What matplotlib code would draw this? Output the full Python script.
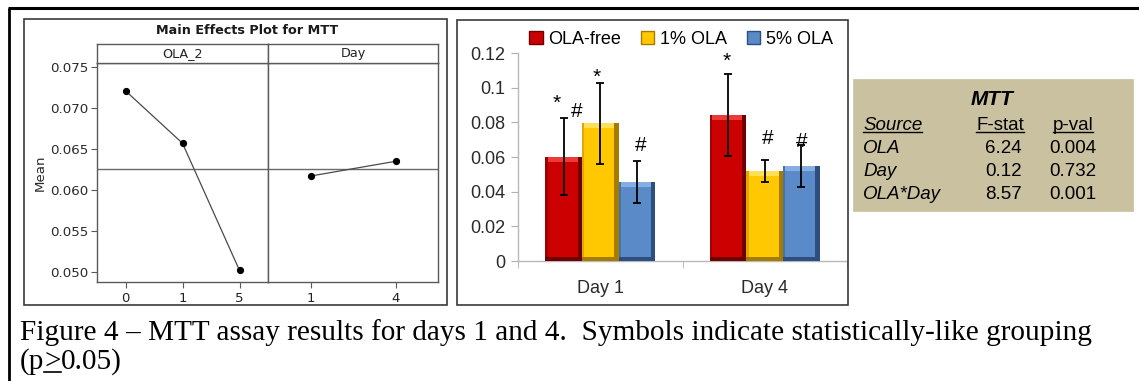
import matplotlib
matplotlib.use("Agg")
import matplotlib.pyplot as plt
from matplotlib.patches import Rectangle, Patch
from matplotlib.lines import Line2D

# ---------------- data ----------------
ola_levels = ["0", "1", "5"]
ola_means = [0.0721, 0.0657, 0.0502]
day_levels = ["1", "4"]
day_means = [0.0617, 0.0635]
grand_mean = 0.0626

days = ["Day 1", "Day 4"]
groups = ["OLA-free", "1% OLA", "5% OLA"]
mtt_free = [0.0601, 0.0842]
mtt_1pct = [0.0794, 0.0521]
mtt_5pct = [0.0457, 0.0548]
err_free = [0.0222, 0.0237]
err_1pct = [0.0232, 0.0064]
err_5pct = [0.0122, 0.0122]
bar_yticks = [0, 0.02, 0.04, 0.06, 0.08, 0.1, 0.12]
bar_ytick_labels = ["0", "0.02", "0.04", "0.06", "0.08", "0.1", "0.12"]
# (series index, day index, symbol)
grouping_marks = [(0, 0, "*"), (0, 0, "#"), (1, 0, "*"), (2, 0, "#"),
                  (0, 1, "*"), (1, 1, "#"), (2, 1, "#")]

anova_sources = ["OLA", "Day", "OLA*Day"]
anova_f = ["6.24", "0.12", "8.57"]
anova_p = ["0.004", "0.732", "0.001"]

caption_line1 = ("Figure 4 \u2013 MTT assay results for days 1 and 4.  "
                 "Symbols indicate statistically-like grouping")

W, H = 1139, 381
fig = plt.figure(figsize=(W / 100, H / 100), dpi=100)
fig.patch.set_facecolor("white")


def fx(px):
    return px / W


def fy(py):
    return 1 - py / H


def box(x0, y0, x1, y1):
    return [fx(x0), fy(y1), fx(x1) - fx(x0), fy(y0) - fy(y1)]


# ---------------- outer frame and panel boxes ----------------
fig.add_artist(Line2D([fx(8), 1.0], [fy(8), fy(8)], color="black", lw=2.2,
                      solid_capstyle="butt"))
fig.add_artist(Line2D([fx(9), fx(9)], [fy(8), 0], color="black", lw=2.0,
                      solid_capstyle="butt"))
for (x0, y0, x1, y1) in [(24, 19, 447, 305), (457, 20, 848, 305)]:
    fig.add_artist(Rectangle((fx(x0), fy(y1)), fx(x1) - fx(x0), fy(y0) - fy(y1),
                             fill=False, ec="#3a3a3a", lw=1.2))

# ---------------- main effects plot ----------------
mfont = "DejaVu Sans"
gray = "#5a5a5a"
ylo, yhi = 0.04878, 0.07549
fig.text(fx(247), fy(31), "Main Effects Plot for MTT", ha="center", va="center",
         fontsize=9.2, fontweight="bold", family=mfont, color="#1a1a1a")

ax_ola = fig.add_axes(box(97, 63, 268, 282))
ax_day = fig.add_axes(box(268, 63, 438, 282))
for ax, labels, means in [(ax_ola, ola_levels, ola_means), (ax_day, day_levels, day_means)]:
    xs = list(range(len(labels)))
    ax.plot(xs, means, color="#4a4a4a", lw=0.9, zorder=3)
    ax.plot(xs, means, "o", color="black", ms=4.2, zorder=4)
    ax.axhline(grand_mean, color="#6a6a6a", lw=1.0, zorder=2)
    ax.set_xlim(-0.5, len(labels) - 0.5)
    ax.set_ylim(ylo, yhi)
    ax.set_xticks(xs)
    ax.set_xticklabels(labels, fontsize=9.5, family=mfont, color="#222222")
    for s in ax.spines.values():
        s.set_color(gray)
        s.set_linewidth(1.0)
    ax.tick_params(axis="x", length=4, color=gray, pad=3)
ax_ola.set_yticks([0.050, 0.055, 0.060, 0.065, 0.070, 0.075])
ax_ola.set_yticklabels(["0.050", "0.055", "0.060", "0.065", "0.070", "0.075"],
                       fontsize=9.6, family=mfont, color="#2a2a2a")
ax_ola.tick_params(axis="y", length=4, color=gray, pad=2)
ax_day.set_yticks([])
ax_ola.set_ylabel("Mean", fontsize=9.6, family=mfont, color="#2a2a2a", labelpad=3)

for (x0, x1, lab) in [(97, 268, "OLA_2"), (268, 438, "Day")]:
    sax = fig.add_axes(box(x0, 44, x1, 63))
    sax.set_xticks([])
    sax.set_yticks([])
    for s in sax.spines.values():
        s.set_color(gray)
        s.set_linewidth(1.0)
    sax.text(0.5, 0.48, lab, ha="center", va="center", fontsize=9.2,
             family=mfont, color="#222222", transform=sax.transAxes)

# ---------------- bar chart ----------------
bfont = "Liberation Sans"
axb = fig.add_axes(box(518, 53, 847, 261))
axb.set_xlim(-0.5, 1.5)
axb.set_ylim(0, 0.12)
series = [mtt_free, mtt_1pct, mtt_5pct]
errors = [err_free, err_1pct, err_5pct]
base_colors = ["#cc0000", "#ffc800", "#5a8ac8"]
light_colors = ["#ea3a3a", "#ffdf55", "#86aee0"]
dark_colors = ["#6e0000", "#a67c00", "#2c4f80"]
mid_dark = ["#a00000", "#e0a800", "#4672aa"]
bw = 0.222
offsets = [-bw, 0.0, bw]
day_x = list(range(len(days)))
for si, (vals, errs) in enumerate(zip(series, errors)):
    for di, (v, e) in enumerate(zip(vals, errs)):
        x = day_x[di] + offsets[si]
        axb.bar(x, v, bw, color=base_colors[si], zorder=2, lw=0)
        # bevel: light top band, dark right/bottom strips, thin left strip
        axb.bar(x, 0.0028, bw, bottom=v - 0.0028, color=light_colors[si], zorder=3, lw=0)
        axb.bar(x + bw / 2 - bw * 0.06, v, bw * 0.12, color=dark_colors[si], zorder=3, lw=0)
        axb.bar(x - bw / 2 + bw * 0.03, v, bw * 0.06, color=mid_dark[si], zorder=3, lw=0)
        axb.bar(x, 0.0022, bw, color=dark_colors[si], zorder=3, lw=0)
        axb.errorbar(x, v, yerr=e, color="black", lw=1.3, capsize=3.2,
                     capthick=1.3, zorder=5)

mark_offsets = {(0, 0, "*"): (-0.045, 0.0088), (0, 0, "#"): (0.08, 0.0040),
                (1, 0, "*"): (-0.02, 0.0035), (2, 0, "#"): (0.025, 0.0085),
                (0, 1, "*"): (-0.01, 0.0072), (1, 1, "#"): (0.02, 0.0122),
                (2, 1, "#"): (0.0, 0.0018)}
for si, di, sym in grouping_marks:
    dx, dy = mark_offsets[(si, di, sym)]
    top = series[si][di] + errors[si][di]
    axb.text(day_x[di] + offsets[si] + dx, top + dy, sym, ha="center", va="center",
             fontsize=15, family=bfont, color="black", zorder=6)

axb.set_yticks(bar_yticks)
axb.set_yticklabels(bar_ytick_labels, fontsize=13, family=bfont, color="#2a2a2a")
axb.set_xticks(day_x)
axb.set_xticklabels(days, fontsize=13, family=bfont, color="#2a2a2a")
axb.set_xticks([-0.5, 0.5, 1.5], minor=True)
axb.tick_params(axis="x", which="major", length=0, pad=14)
axb.tick_params(axis="x", which="minor", length=5, color="#b0b0b0")
axb.tick_params(axis="y", length=5, color="#b0b0b0", pad=4)
for side in ["top", "right"]:
    axb.spines[side].set_visible(False)
for side in ["left", "bottom"]:
    axb.spines[side].set_color("#b8b8b8")
    axb.spines[side].set_linewidth(1.0)

handles = [Patch(facecolor=base_colors[i], edgecolor=dark_colors[i], lw=1.0)
           for i in range(3)]
fig.legend(handles, groups, loc="center", bbox_to_anchor=(fx(681), fy(39)),
           ncol=3, frameon=False, handlelength=0.75, handleheight=0.75,
           handletextpad=0.3, columnspacing=1.1,
           prop={"family": bfont, "size": 13})

# ---------------- ANOVA table ----------------
fig.add_artist(Rectangle((fx(853), fy(211)), fx(1133) - fx(853), fy(79) - fy(211),
                         facecolor="#c9c19f", edgecolor="#c9c19f", lw=0.5))
tsize = 13.5
fig.text(fx(992), fy(105), "MTT", ha="center", va="baseline", fontsize=15,
         fontweight="bold", style="italic", family=bfont)
hdrs = [fig.text(fx(863), fy(130), "Source", ha="left", va="baseline", fontsize=tsize,
                 style="italic", family=bfont),
        fig.text(fx(1000), fy(130), "F-stat", ha="center", va="baseline", fontsize=tsize,
                 family=bfont),
        fig.text(fx(1073), fy(130), "p-val", ha="center", va="baseline", fontsize=tsize,
                 family=bfont)]
row_base = [153, 176, 199]
for src, f, p, yb in zip(anova_sources, anova_f, anova_p, row_base):
    fig.text(fx(863), fy(yb), src, ha="left", va="baseline", fontsize=tsize,
             style="italic", family=bfont)
    fig.text(fx(1022), fy(yb), f, ha="right", va="baseline", fontsize=tsize, family=bfont)
    fig.text(fx(1073), fy(yb), p, ha="center", va="baseline", fontsize=tsize, family=bfont)

renderer = fig.canvas.get_renderer()
for t in hdrs:
    bb = t.get_window_extent(renderer)
    yline = fy(132)
    fig.add_artist(Line2D([bb.x0 / W, bb.x1 / W], [yline, yline], color="black", lw=1.0))

# ---------------- caption ----------------
cfont = "Liberation Serif"
csize = 21.1
fig.text(fx(20), fy(340), caption_line1, ha="left", va="baseline", fontsize=csize,
         family=cfont, color="black")
parts = ["(p", ">", "0.05)"]
xcur = 20
for part in parts:
    t = fig.text(fx(xcur), fy(369), part, ha="left", va="baseline", fontsize=csize,
                 family=cfont, color="black")
    bb = t.get_window_extent(renderer)
    if part == ">":
        fig.add_artist(Line2D([bb.x0 / W, bb.x1 / W], [fy(372), fy(372)],
                              color="black", lw=1.2))
    xcur = bb.x1

fig.savefig("out.png", dpi=100)
